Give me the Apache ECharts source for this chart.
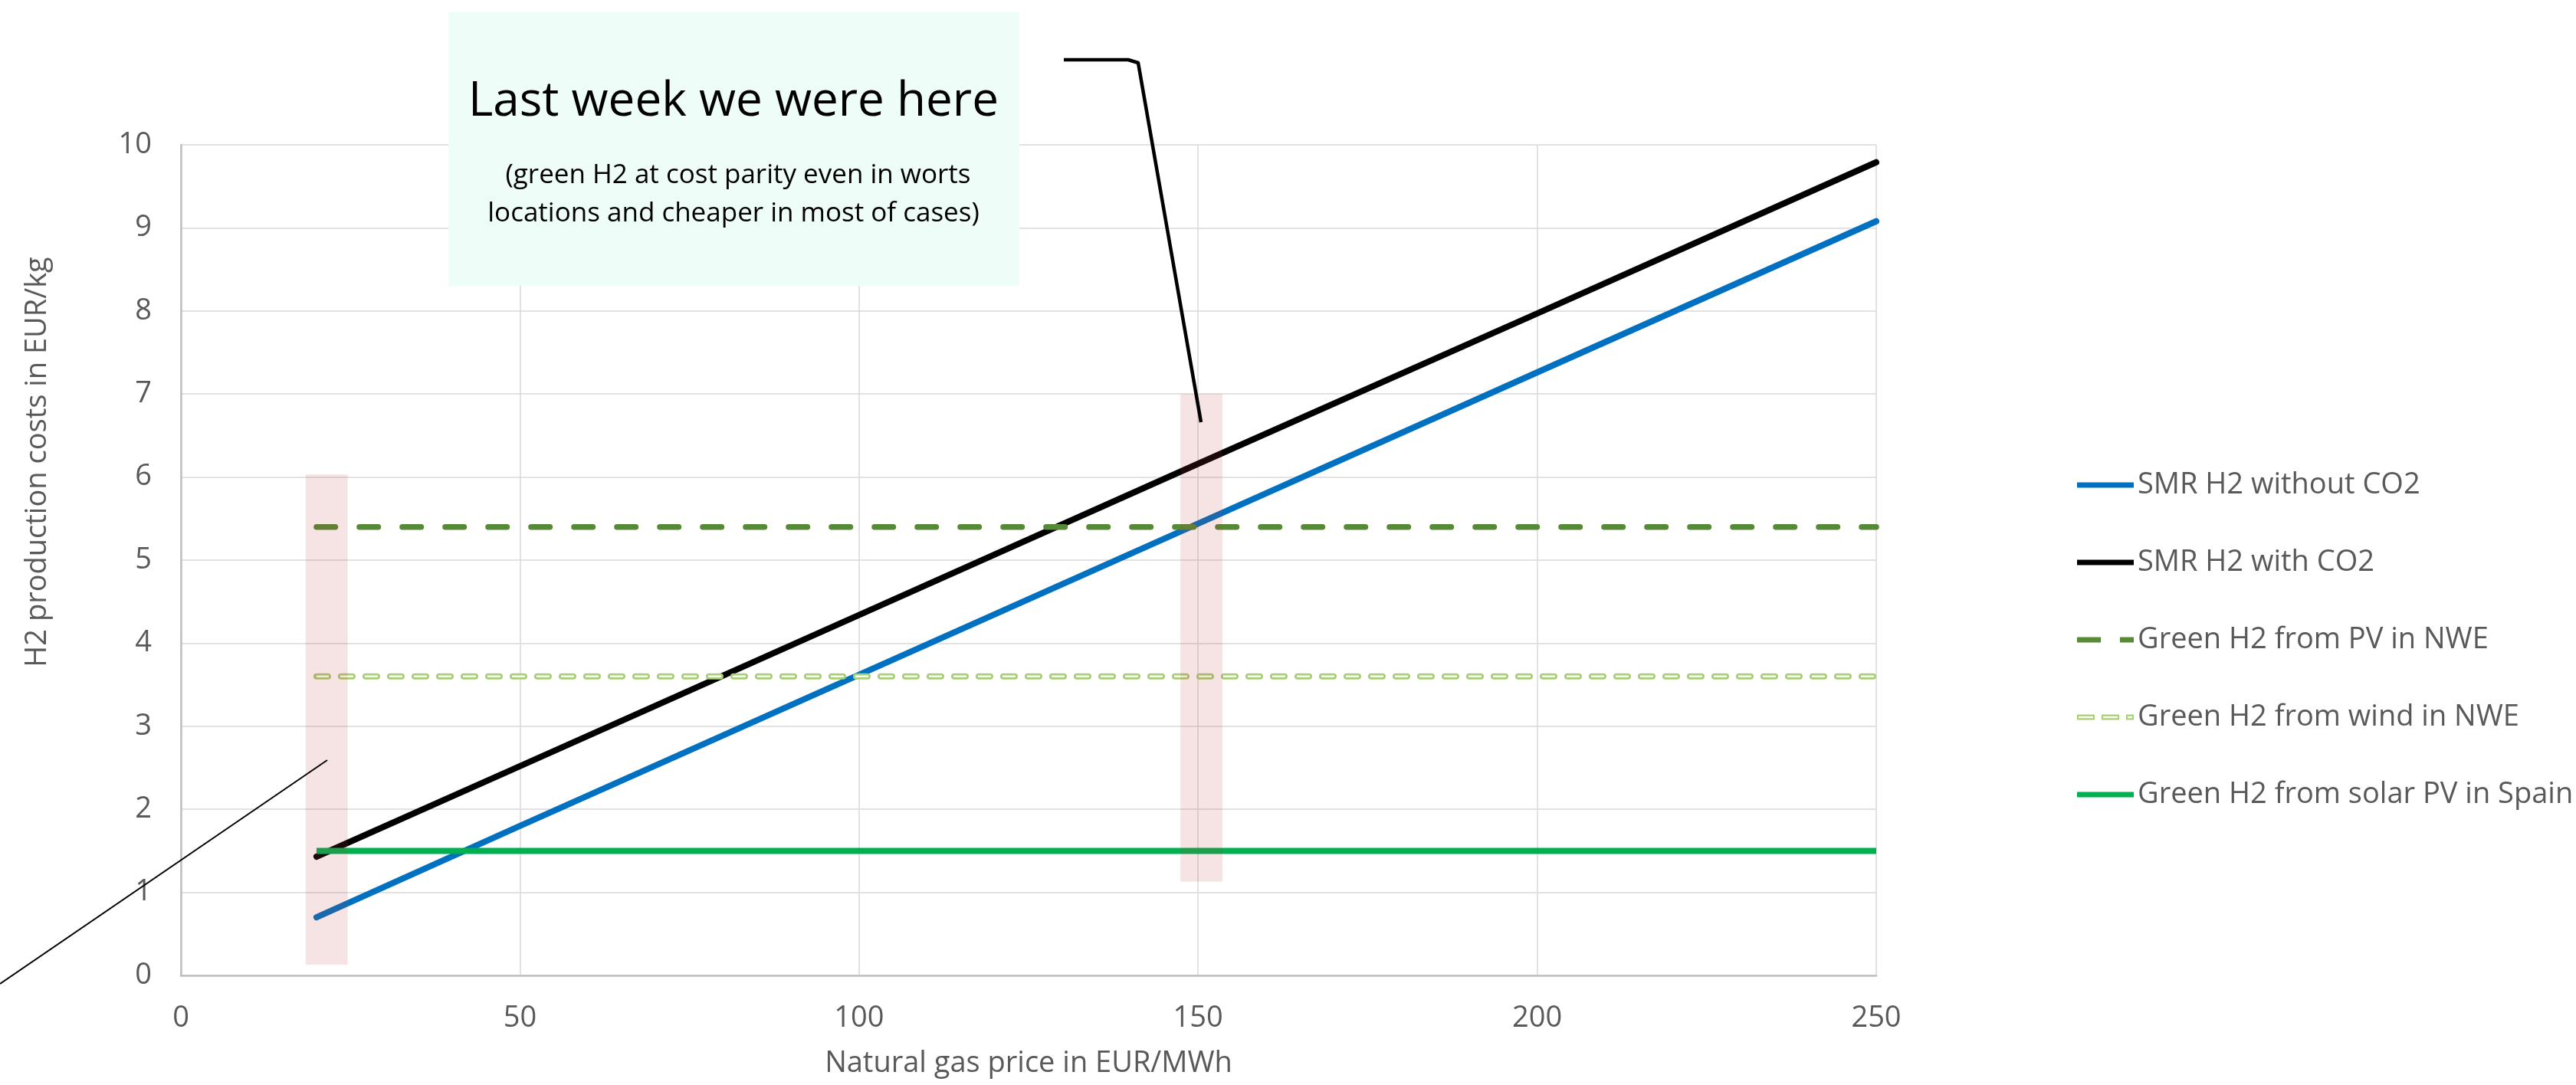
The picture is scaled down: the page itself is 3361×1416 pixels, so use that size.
<!DOCTYPE html>
<html>
<head>
<meta charset="utf-8">
<title>H2 production costs vs natural gas price</title>
<script src="https://cdn.jsdelivr.net/npm/echarts@6/dist/echarts.min.js"></script>
<style>
  html, body { margin: 0; padding: 0; background: #ffffff; }
  #chart { width: 3361px; height: 1416px; }
</style>
</head>
<body>
<div id="chart"></div>
<script>
// Natural gas price (EUR/MWh) at which the SMR cost lines are read
const gasPrice = [20, 50, 100, 150, 200, 250];
// SMR hydrogen cost (EUR/kg)
const smrWithoutCO2 = [0.70, 1.80, 3.62, 5.44, 7.26, 9.08];
const smrWithCO2 = [1.43, 2.52, 4.34, 6.16, 7.97, 9.79];

// Green hydrogen costs do not depend on the gas price
const greenRange = [20, 250];
const greenPvNWE = [5.4, 5.4];
const greenWindNWE = [3.6, 3.6];
const greenSolarSpain = [1.5, 1.5];

const seriesNames = [
  'SMR H2 without CO2',
  'SMR H2 with CO2',
  'Green H2 from PV in NWE',
  'Green H2 from wind in NWE',
  'Green H2 from solar PV in Spain'
];

// Highlighted gas price ranges: [xFrom, xTo, yFrom, yTo]
const highlightBands = [
  [18.4, 24.6, 0.13, 6.03],
  [147.4, 153.6, 1.13, 7.0]
];

const xTicks = { min: 0, max: 250, interval: 50 };
const yTicks = { min: 0, max: 10, interval: 1 };

const FONT = "'Open Sans', 'Noto Sans', sans-serif";
const GREY_TEXT = '#595959';

// Legend keys drawn as small paths (solid bar, long/short dash, hollow dashes)
const ICON_SOLID = 'path://M0,0H74V7H0Z';
const ICON_DASH = 'path://M0,0H31V7H0Z M56,0H74V7H56Z';
const ICON_HOLLOW = 'path://M0,0H23V7H0Z M2,2.2V4.8H21V2.2Z ' +
  'M32,0H55V7H32Z M34,2.2V4.8H53V2.2Z ' +
  'M64,0H74V7H64Z M66,2.2V4.8H72V2.2Z';
const legendIcons = [ICON_SOLID, ICON_SOLID, ICON_DASH, ICON_HOLLOW, ICON_SOLID];

function pairs(xs, ys) {
  return xs.map((x, i) => [x, ys[i]]);
}

const chart = echarts.init(document.getElementById('chart'), null, { renderer: 'canvas' });

const lineBase = { type: 'line', symbol: 'none', showSymbol: false, silent: true, animation: false };

const option = {
  animation: false,
  backgroundColor: '#ffffff',
  textStyle: { fontFamily: FONT },
  grid: { left: 236, right: 913, top: 189, bottom: 143, containLabel: false },
  xAxis: {
    type: 'value',
    min: xTicks.min, max: xTicks.max, interval: xTicks.interval,
    name: 'Natural gas price in EUR/MWh',
    nameLocation: 'middle',
    nameGap: 96,
    nameTextStyle: { fontSize: 38, color: GREY_TEXT, fontFamily: FONT },
    axisLine: { show: true, lineStyle: { color: '#bfbfbf', width: 2.5 } },
    axisTick: { show: false },
    axisLabel: { fontSize: 38, color: GREY_TEXT, margin: 37, fontFamily: FONT },
    splitLine: { show: true, lineStyle: { color: '#d9d9d9', width: 1.5 } }
  },
  yAxis: {
    type: 'value',
    min: yTicks.min, max: yTicks.max, interval: yTicks.interval,
    name: 'H2 production costs in EUR/kg',
    nameLocation: 'middle',
    nameGap: 168,
    nameRotate: 90,
    nameTextStyle: { fontSize: 38, color: GREY_TEXT, fontFamily: FONT, padding: [0, 0, 0, 256] },
    axisLine: { show: true, lineStyle: { color: '#bfbfbf', width: 2.5 } },
    axisTick: { show: false },
    axisLabel: { fontSize: 38, color: GREY_TEXT, margin: 38, fontFamily: FONT },
    splitLine: { show: true, lineStyle: { color: '#d9d9d9', width: 1.5 } }
  },
  legend: {
    orient: 'vertical',
    left: 2705,
    top: 608,
    itemWidth: 74,
    itemHeight: 7,
    itemGap: 61,
    data: seriesNames.map((name, i) => ({ name: name, icon: legendIcons[i] })),
    selectedMode: false,
    itemStyle: { borderWidth: 0 },
    textStyle: { fontSize: 38, color: GREY_TEXT, fontFamily: FONT, lineHeight: 40 }
  },
  series: [
    Object.assign({}, lineBase, {
      name: seriesNames[0],
      data: pairs(gasPrice, smrWithoutCO2),
      lineStyle: { color: '#0070c0', width: 8, cap: 'round' },
      itemStyle: { color: '#0070c0' }
    }),
    Object.assign({}, lineBase, {
      name: seriesNames[1],
      data: pairs(gasPrice, smrWithCO2),
      lineStyle: { color: '#000000', width: 8, cap: 'round' },
      itemStyle: { color: '#000000' }
    }),
    Object.assign({}, lineBase, {
      name: seriesNames[2],
      data: pairs(greenRange, greenPvNWE),
      lineStyle: { color: '#568a37', width: 7.5, type: [24.5, 31.5], cap: 'round' },
      itemStyle: { color: '#568a37' }
    }),
    Object.assign({}, lineBase, {
      name: seriesNames[3],
      data: pairs(greenRange, greenWindNWE),
      lineStyle: { color: '#a7d071', width: 8, type: [15, 17], cap: 'round' },
      itemStyle: { color: '#a7d071' }
    }),
    // white core that makes the wind dashes look hollow
    Object.assign({}, lineBase, {
      name: 'wind-core',
      data: pairs(greenRange, greenWindNWE),
      lineStyle: { color: '#ffffff', width: 2.5, type: [17, 15], dashOffset: 1, cap: 'butt' },
      itemStyle: { color: '#ffffff' }
    }),
    Object.assign({}, lineBase, {
      name: seriesNames[4],
      data: pairs(greenRange, greenSolarSpain),
      lineStyle: { color: '#00b050', width: 8, cap: 'butt' },
      itemStyle: { color: '#00b050' }
    }),
    {
      type: 'custom',
      name: 'bands',
      silent: true,
      z: 5,
      data: highlightBands,
      encode: { x: [0, 1], y: [2, 3] },
      renderItem: function (params, api) {
        const p0 = api.coord([api.value(0), api.value(3)]);
        const p1 = api.coord([api.value(1), api.value(2)]);
        return {
          type: 'rect',
          shape: { x: p0[0], y: p0[1], width: p1[0] - p0[0], height: p1[1] - p0[1] },
          style: { fill: 'rgba(190, 60, 60, 0.14)' }
        };
      }
    }
  ],
  graphic: [
    {
      type: 'rect', z: 100, silent: true,
      shape: { x: 585, y: 16, width: 745, height: 357 },
      style: { fill: '#effdf8' }
    },
    {
      type: 'text', z: 101, silent: true,
      style: {
        x: 957, y: 133, text: 'Last week we were here',
        font: "62px " + FONT, fill: '#000000', align: 'center', verticalAlign: 'middle'
      }
    },
    {
      type: 'text', z: 101, silent: true,
      style: {
        x: 963, y: 229, text: '(green H2 at cost parity even in worts',
        font: "35px " + FONT, fill: '#000000', align: 'center', verticalAlign: 'middle'
      }
    },
    {
      type: 'text', z: 101, silent: true,
      style: {
        x: 957, y: 279, text: 'locations and cheaper in most of cases)',
        font: "35px " + FONT, fill: '#000000', align: 'center', verticalAlign: 'middle'
      }
    },
    {
      type: 'polyline', z: 102, silent: true,
      shape: { points: [[1388, 78], [1472, 78], [1485, 82], [1567, 551]] },
      style: { stroke: '#000000', lineWidth: 4.5, fill: null, lineJoin: 'round' }
    },
    {
      type: 'line', z: 102, silent: true,
      shape: { x1: 0, y1: 1284, x2: 427, y2: 992 },
      style: { stroke: '#000000', lineWidth: 2 }
    }
  ]
};

chart.setOption(option);
</script>
</body>
</html>
